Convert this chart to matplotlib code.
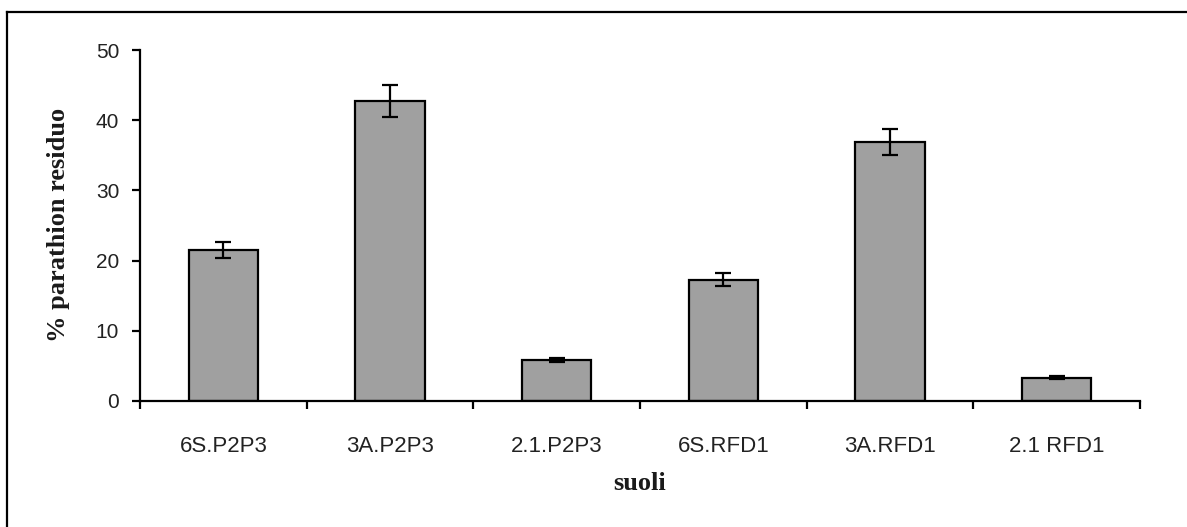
import matplotlib
matplotlib.use("Agg")
import matplotlib.pyplot as plt
import numpy as np

# soil samples and residual parathion (%)
soils = ["6S.P2P3", "3A.P2P3", "2.1.P2P3", "6S.RFD1", "3A.RFD1", "2.1 RFD1"]
residue = [21.5, 42.7, 5.8, 17.3, 36.9, 3.3]
errors = [1.2, 2.3, 0.3, 0.95, 1.9, 0.2]
yticks = [0, 10, 20, 30, 40, 50]

W, H = 1187, 527
fig = plt.figure(figsize=(W / 100, H / 100), dpi=100)
fig.patch.set_facecolor("white")

# plot area in pixels of the reference
left, right, bottom, top = 140, 1140, 401, 50
ax = fig.add_axes([left / W, 1 - bottom / H, (right - left) / W, (bottom - top) / H])

x = np.arange(len(soils))
ax.bar(x, residue, width=0.415, color="#a0a0a0", edgecolor="black", linewidth=1.6, zorder=2)
ax.errorbar(x, residue, yerr=errors, fmt="none", ecolor="black",
            elinewidth=1.6, capsize=6, capthick=1.6, zorder=3)

ax.set_xlim(-0.5, len(soils) - 0.5)
ax.set_ylim(0, 50)

for s in ["top", "right"]:
    ax.spines[s].set_visible(False)
for s in ["left", "bottom"]:
    ax.spines[s].set_linewidth(1.6)

tick_font = {"family": ["Liberation Sans", "DejaVu Sans"]}
ax.set_yticks(yticks)
ax.set_yticklabels([str(v) for v in yticks], fontdict=tick_font, fontsize=15, color="#222222")
ax.tick_params(axis="y", direction="out", length=6, width=1.6, pad=9)

ax.set_xticks(x)
ax.set_xticklabels(soils, fontdict=tick_font, fontsize=16, color="#222222")
ax.set_xticks(np.arange(-0.5, len(soils)), minor=True)
ax.tick_params(axis="x", which="major", length=0, pad=25)
ax.tick_params(axis="x", which="minor", direction="out", length=6, width=1.6)

label_font = {"family": ["Liberation Serif", "DejaVu Serif"], "weight": "bold", "size": 19}
fig.text(58 / W, 1 - 225 / H, "% parathion residuo", rotation=90,
         ha="center", va="center", color="#1a1a1a", fontdict=label_font)
fig.text(640 / W, 1 - 484 / H, "suoli", ha="center", va="center",
         color="#1a1a1a", fontdict=label_font)

# outer frame: only left and top edges visible in the reference
fig.add_artist(plt.Line2D([7 / W, 7 / W], [0, 1 - 12 / H], color="black", linewidth=1.6))
fig.add_artist(plt.Line2D([7 / W, 1], [1 - 12 / H, 1 - 12 / H], color="black", linewidth=1.6))

fig.savefig("out.png", dpi=100)
